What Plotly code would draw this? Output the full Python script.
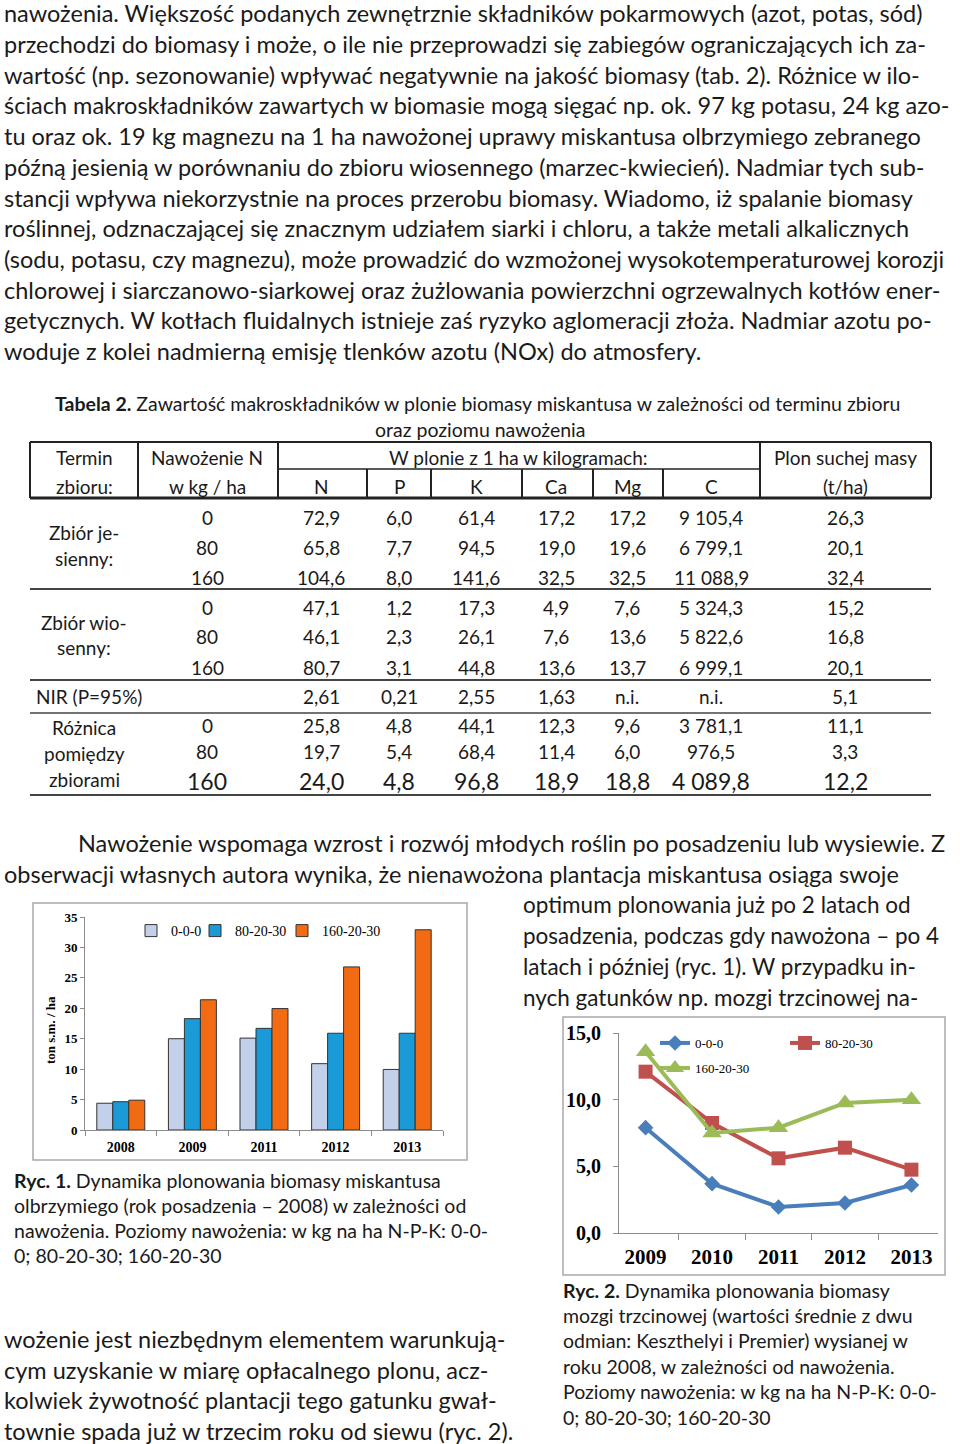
import plotly.graph_objects as go

W, H = 960, 1444


def X(px):
    return px / W


def Y(py):
    return 1 - py / H


# ---------------- data ----------------
bar_years = ["2008", "2009", "2011", "2012", "2013"]
bar_000 = [4.4, 15.0, 15.1, 10.9, 9.95]
bar_80 = [4.65, 18.3, 16.7, 15.9, 15.9]
bar_160 = [4.9, 21.4, 19.95, 26.8, 32.9]

line_years = ["2009", "2010", "2011", "2012", "2013"]
line_000 = [7.9, 3.7, 1.95, 2.25, 3.6]
line_80 = [12.1, 8.25, 5.6, 6.4, 4.75]
line_160 = [13.6, 7.5, 7.9, 9.75, 10.0]
line_yticks = [0, 5, 10, 15]
line_yticklabels = ["0,0", "5,0", "10,0", "15,0"]

table_cols = ["N", "P", "K", "Ca", "Mg", "C"]
fert_levels = ["0", "80", "160"]
autumn_rows = [
    ["72,9", "6,0", "61,4", "17,2", "17,2", "9 105,4", "26,3"],
    ["65,8", "7,7", "94,5", "19,0", "19,6", "6 799,1", "20,1"],
    ["104,6", "8,0", "141,6", "32,5", "32,5", "11 088,9", "32,4"],
]
spring_rows = [
    ["47,1", "1,2", "17,3", "4,9", "7,6", "5 324,3", "15,2"],
    ["46,1", "2,3", "26,1", "7,6", "13,6", "5 822,6", "16,8"],
    ["80,7", "3,1", "44,8", "13,6", "13,7", "6 999,1", "20,1"],
]
nir_row = ["2,61", "0,21", "2,55", "1,63", "n.i.", "n.i.", "5,1"]
diff_rows = [
    ["25,8", "4,8", "44,1", "12,3", "9,6", "3 781,1", "11,1"],
    ["19,7", "5,4", "68,4", "11,4", "6,0", "976,5", "3,3"],
    ["24,0", "4,8", "96,8", "18,9", "18,8", "4 089,8", "12,2"],
]

top_par = [
    "nawożenia. Większość podanych zewnętrznie składników pokarmowych (azot, potas, sód)",
    "przechodzi do biomasy i może, o ile nie przeprowadzi się zabiegów ograniczających ich za-",
    "wartość (np. sezonowanie) wpływać negatywnie na jakość biomasy (tab. 2). Różnice w ilo-",
    "ściach makroskładników zawartych w biomasie mogą sięgać np. ok. 97 kg potasu, 24 kg azo-",
    "tu oraz ok. 19 kg magnezu na 1 ha nawożonej uprawy miskantusa olbrzymiego zebranego",
    "późną jesienią w porównaniu do zbioru wiosennego (marzec-kwiecień). Nadmiar tych sub-",
    "stancji wpływa niekorzystnie na proces przerobu biomasy. Wiadomo, iż spalanie biomasy",
    "roślinnej, odznaczającej się znacznym udziałem siarki i chloru, a także metali alkalicznych",
    "(sodu, potasu, czy magnezu), może prowadzić do wzmożonej wysokotemperaturowej korozji",
    "chlorowej i siarczanowo-siarkowej oraz żużlowania powierzchni ogrzewalnych kotłów ener-",
    "getycznych. W kotłach fluidalnych istnieje zaś ryzyko aglomeracji złoża. Nadmiar azotu po-",
    "woduje z kolei nadmierną emisję tlenków azotu (NOx) do atmosfery.",
]
mid_par_full = [
    "Nawożenie wspomaga wzrost i rozwój młodych roślin po posadzeniu lub wysiewie. Z",
    "obserwacji własnych autora wynika, że nienawożona plantacja miskantusa osiąga swoje",
]
mid_par_right = [
    "optimum plonowania już po 2 latach od",
    "posadzenia, podczas gdy nawożona – po 4",
    "latach i później (ryc. 1). W przypadku in-",
    "nych gatunków np. mozgi trzcinowej na-",
]
low_par_left = [
    "wożenie jest niezbędnym elementem warunkują-",
    "cym uzyskanie w miarę opłacalnego plonu, acz-",
    "kolwiek żywotność plantacji tego gatunku gwał-",
    "townie spada już w trzecim roku od siewu (ryc. 2).",
]
cap1 = [
    "<b>Ryc. 1.</b> Dynamika plonowania biomasy miskantusa",
    "olbrzymiego (rok posadzenia – 2008) w zależności od",
    "nawożenia. Poziomy nawożenia: w kg na ha N-P-K: 0-0-",
    "0; 80-20-30; 160-20-30",
]
cap2 = [
    "<b>Ryc. 2.</b> Dynamika plonowania biomasy",
    "mozgi trzcinowej (wartości średnie z dwu",
    "odmian: Keszthelyi i Premier) wysianej w",
    "roku 2008, w zależności od nawożenia.",
    "Poziomy nawożenia: w kg na ha N-P-K: 0-0-",
    "0; 80-20-30; 160-20-30",
]

BODY = "Lato"
SERIF = "Liberation Serif"
INK = "#1a1a1a"
BS = 23.5  # body text size

annotations = []
shapes = []


def txt(x, y, s, size=BS, anchor="left", family=BODY, **kw):
    annotations.append(dict(
        x=X(x), y=Y(y), xref="paper", yref="paper", text=s, showarrow=False,
        xanchor=anchor, yanchor="middle",
        font=dict(family=family, size=size, color=kw.pop("color", INK)), **kw))


def hline(x0, x1, y, w=1.5, color="#222"):
    shapes.append(dict(type="line", xref="paper", yref="paper",
                       x0=X(x0), x1=X(x1), y0=Y(y), y1=Y(y),
                       line=dict(color=color, width=w)))


def vline(x, y0, y1, w=1.5, color="#222"):
    shapes.append(dict(type="line", xref="paper", yref="paper",
                       x0=X(x), x1=X(x), y0=Y(y0), y1=Y(y1),
                       line=dict(color=color, width=w)))


def rect(x0, y0, x1, y1, color="#a8a8a8", w=1.5):
    shapes.append(dict(type="rect", xref="paper", yref="paper",
                       x0=X(x0), x1=X(x1), y0=Y(y0), y1=Y(y1),
                       line=dict(color=color, width=w)))


LEFT = 2
# ---------------- body text ----------------
for i, line in enumerate(top_par):
    txt(LEFT, 13 + i * 30.75, line)

txt(76, 843, mid_par_full[0])
txt(LEFT, 874, mid_par_full[1])
for i, line in enumerate(mid_par_right):
    txt(521, 905 + i * 30.7, line, size=22.5)
for i, line in enumerate(low_par_left):
    txt(LEFT, 1339 + i * 30.7, line)
for i, line in enumerate(cap1):
    txt(12, 1180 + i * 25.3, line, size=19.5)
for i, line in enumerate(cap2):
    txt(561, 1290 + i * 25.4, line, size=19.5)

# ---------------- table ----------------
txt(53, 403, "<b>Tabela 2.</b> Zawartość makroskładników w plonie biomasy miskantusa w zależności od terminu zbioru", size=19.5)
txt(480, 429, "oraz poziomu nawożenia", size=19.5, anchor="center")

TS = 19
col_x = [321, 399, 476, 556, 627, 711, 845]
txt(84, 457, "Termin", TS, "center")
txt(84, 486, "zbioru:", TS, "center")
txt(207, 457, "Nawożenie N", TS, "center")
txt(207, 486, "w kg / ha", TS, "center")
txt(518, 457, "W plonie z 1 ha w kilogramach:", TS, "center")
txt(845, 457, "Plon suchej masy", TS, "center")
txt(845, 486, "(t/ha)", TS, "center")
for c, name in zip(col_x[:6], table_cols):
    txt(c, 486, name, TS, "center")


def table_block(rows, ys, big_last=False):
    for r, (row, y) in enumerate(zip(rows, ys)):
        size = 23 if (big_last and r == len(rows) - 1) else TS
        txt(207, y, fert_levels[r], size, "center")
        for c, v in zip(col_x, row):
            txt(c, y, v, size, "center")


table_block(autumn_rows, [517, 547, 577])
table_block(spring_rows, [607, 637, 667])
table_block(diff_rows, [725, 751, 781], big_last=True)
for c, v in zip(col_x, nir_row):
    txt(c, 696, v, TS, "center")

txt(84, 532, "Zbiór je-", TS, "center")
txt(84, 558, "sienny:", TS, "center")
txt(84, 622, "Zbiór wio-", TS, "center")
txt(84, 648, "senny:", TS, "center")
txt(89, 696, "NIR (P=95%)", TS, "center")
txt(84, 727, "Różnica", TS, "center")
txt(84, 753, "pomiędzy", TS, "center")
txt(84, 779, "zbiorami", TS, "center")

hline(30, 931, 442, 2)
hline(278, 760, 469, 1.5)
hline(30, 931, 498, 3)
for vx in [30, 138, 278, 760, 931]:
    vline(vx, 442, 498, 2)
for vx in [367, 431, 522, 593, 663]:
    vline(vx, 469, 498, 2)
hline(30, 931, 589, 2, "#444")
hline(30, 931, 680, 2, "#444")
hline(30, 931, 713, 1.5, "#444")
hline(30, 931, 795, 2, "#444")

# ---------------- chart frames ----------------
rect(33, 903, 467, 1160)
rect(563, 1017, 945, 1275)

# ---------------- traces ----------------
fig = go.Figure()
bar_specs = [("0-0-0", bar_000, "#c3d0ea", "legend", 173),
             ("80-20-30", bar_80, "#1a9ad6", "legend4", 237),
             ("160-20-30", bar_160, "#f26a12", "legend5", 324)]
for name, vals, col, lg, _ in bar_specs:
    fig.add_trace(go.Bar(x=bar_years, y=vals, name=name, xaxis="x", yaxis="y",
                         marker=dict(color=col, line=dict(color="#333", width=1)),
                         legend=lg, showlegend=True))

line_specs = [("0-0-0", line_000, "#4a7ebb", "diamond", 12, "legend2"),
              ("80-20-30", line_80, "#c0504d", "square", 14, "legend2"),
              ("160-20-30", line_160, "#9bbb59", "triangle-up", 17, "legend3")]
for name, vals, col, sym, ms, lg in line_specs:
    fig.add_trace(go.Scatter(x=line_years, y=vals, name=name, xaxis="x2", yaxis="y2",
                             mode="lines+markers", line=dict(color=col, width=4),
                             marker=dict(symbol=sym, size=ms, color=col),
                             legend=lg, showlegend=True))

axis_gray = "#8c8c8c"


def bar_legend(text_x):
    return dict(x=X(text_x - 42), y=Y(931), xanchor="left", yanchor="middle",
                orientation="h", bgcolor="rgba(0,0,0,0)", visible=True,
                font=dict(family=SERIF, size=14, color="black"), itemwidth=30)


fig.update_layout(
    width=W, height=H, margin=dict(l=0, r=0, t=0, b=0, pad=0, autoexpand=False),
    showlegend=True,
    paper_bgcolor="white", plot_bgcolor="white",
    barmode="group", bargap=0.33, bargroupgap=0,
    xaxis=dict(domain=[X(85), X(443)], anchor="y", type="category",
               showline=True, linecolor=axis_gray, linewidth=1,
               ticks="outside", tickson="boundaries", ticklen=5, tickcolor=axis_gray,
               tickfont=dict(family=SERIF, size=14, color="black", weight="bold"),
               ticklabelstandoff=4,
               showgrid=False, zeroline=False, automargin=False),
    yaxis=dict(domain=[Y(1130), Y(917)], anchor="x", range=[0, 35],
               tickvals=[0, 5, 10, 15, 20, 25, 30, 35],
               showline=True, linecolor=axis_gray, linewidth=1,
               ticks="outside", ticklen=4, tickcolor=axis_gray,
               tickfont=dict(family=SERIF, size=13, color="black", weight="bold"),
               showgrid=False, zeroline=False, automargin=False),
    xaxis2=dict(domain=[X(619), X(938)], anchor="y2", type="category",
                showline=True, linecolor=axis_gray, linewidth=1,
                ticks="outside", tickson="boundaries", ticklen=6, tickcolor=axis_gray,
                tickfont=dict(family=SERIF, size=21, color="black", weight="bold"),
                ticklabelstandoff=5,
                showgrid=False, zeroline=False, automargin=False),
    yaxis2=dict(domain=[Y(1233), Y(1033)], anchor="x2", range=[0, 15],
                tickvals=line_yticks, ticktext=line_yticklabels,
                showline=True, linecolor=axis_gray, linewidth=1,
                ticks="outside", ticklen=5, tickcolor=axis_gray,
                tickfont=dict(family=SERIF, size=20, color="black", weight="bold"),
                ticklabelstandoff=8,
                showgrid=False, zeroline=False, automargin=False),
    legend=bar_legend(bar_specs[0][4]),
    legend4=bar_legend(bar_specs[1][4]),
    legend5=bar_legend(bar_specs[2][4]),
    legend2=dict(x=X(655), y=Y(1043), xanchor="left", yanchor="middle",
                 orientation="h", bgcolor="rgba(0,0,0,0)",
                 font=dict(family=SERIF, size=13, color="black"),
                 entrywidth=85),
    legend3=dict(x=X(655), y=Y(1068), xanchor="left", yanchor="middle",
                 orientation="h", bgcolor="rgba(0,0,0,0)",
                 font=dict(family=SERIF, size=13, color="black")),
    annotations=annotations + [dict(
        x=X(50), y=Y(1030), xref="paper", yref="paper", text="<b>ton s.m. / ha</b>",
        showarrow=False, textangle=-90, xanchor="center", yanchor="middle",
        font=dict(family=SERIF, size=13, color="black"))],
    shapes=shapes,
)

# remove the browser's default 8px page margin so the figure fills the window
fig.write_html("out.html", config={"displayModeBar": False},
               post_script="document.body.style.margin='0px';")
